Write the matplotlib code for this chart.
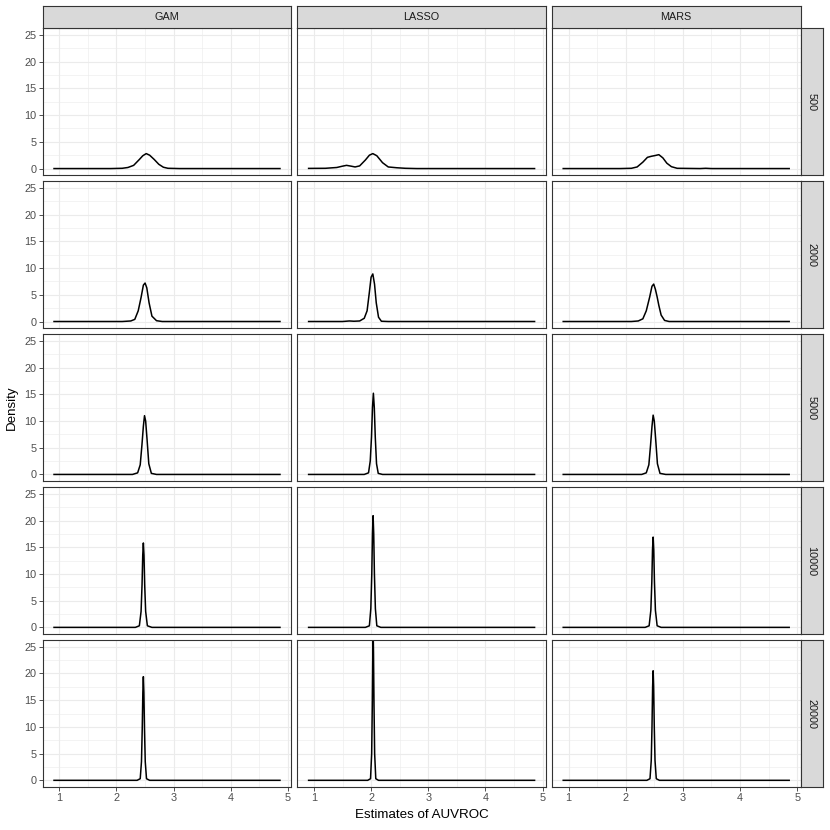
import numpy as np
import matplotlib.pyplot as plt

plt.rcParams['font.family'] = ['Liberation Sans', 'DejaVu Sans']

methods = ["GAM", "LASSO", "MARS"]
sizes = ["500", "2000", "5000", "10000", "20000"]

# density curves, one (x, y) pair of lists per panel
curves = {
    ("500", "GAM"): (
        [0.907, 1.9, 2.1, 2.2, 2.3, 2.4, 2.46, 2.52, 2.58, 2.66, 2.74, 2.82, 2.9, 3.1, 4.86],
        [0, 0, 0.05, 0.2, 0.6, 1.7, 2.4, 2.8, 2.5, 1.7, 0.8, 0.25, 0.05, 0, 0]),
    ("500", "LASSO"): (
        [0.907, 1.2, 1.4, 1.5, 1.57, 1.65, 1.72, 1.8, 1.9, 1.97, 2.03, 2.1, 2.2, 2.3, 2.45, 2.6, 2.8, 4.86],
        [0.03, 0.05, 0.2, 0.45, 0.6, 0.45, 0.3, 0.5, 1.6, 2.5, 2.8, 2.4, 1.1, 0.3, 0.15, 0.05, 0, 0]),
    ("500", "MARS"): (
        [0.907, 1.9, 2.1, 2.2, 2.3, 2.38, 2.45, 2.52, 2.58, 2.65, 2.72, 2.8, 2.9, 3.3, 3.4, 3.5, 4.86],
        [0, 0, 0.05, 0.3, 1.2, 2.1, 2.3, 2.45, 2.6, 2.0, 1.0, 0.35, 0.05, 0, 0.05, 0, 0]),
    ("2000", "GAM"): (
        [0.907, 2.1, 2.25, 2.32, 2.38, 2.43, 2.47, 2.5, 2.53, 2.57, 2.62, 2.7, 2.8, 4.86],
        [0, 0, 0.1, 0.4, 2.0, 4.5, 6.8, 7.2, 6.3, 3.5, 1.0, 0.15, 0, 0]),
    ("2000", "LASSO"): (
        [0.907, 1.5, 1.62, 1.7, 1.8, 1.88, 1.93, 1.97, 2.0, 2.03, 2.06, 2.09, 2.13, 2.18, 2.3, 4.86],
        [0, 0, 0.1, 0.05, 0.1, 0.6, 2.0, 5.5, 8.3, 8.9, 7.0, 3.5, 0.8, 0.05, 0, 0]),
    ("2000", "MARS"): (
        [0.907, 2.1, 2.22, 2.3, 2.36, 2.42, 2.46, 2.49, 2.52, 2.55, 2.58, 2.62, 2.68, 2.76, 4.86],
        [0, 0, 0.1, 0.5, 2.0, 4.6, 6.6, 7.0, 6.0, 4.6, 3.0, 1.2, 0.2, 0, 0]),
    ("5000", "GAM"): (
        [0.907, 2.28, 2.37, 2.415, 2.445, 2.47, 2.49, 2.51, 2.535, 2.565, 2.61, 2.7, 4.86],
        [0, 0, 0.3, 1.8, 5.5, 9.0, 11.0, 10.0, 6.5, 2.0, 0.2, 0, 0]),
    ("5000", "LASSO"): (
        [0.907, 1.88, 1.955, 1.985, 2.007, 2.024, 2.04, 2.056, 2.073, 2.095, 2.125, 2.2, 4.86],
        [0, 0, 0.3, 2.5, 7.0, 12.5, 15.2, 12.5, 7.0, 2.0, 0.2, 0, 0]),
    ("5000", "MARS"): (
        [0.907, 2.28, 2.36, 2.405, 2.435, 2.46, 2.48, 2.5, 2.525, 2.555, 2.6, 2.7, 4.86],
        [0, 0, 0.3, 1.8, 5.5, 9.0, 11.1, 10.0, 6.5, 2.0, 0.2, 0, 0]),
    ("10000", "GAM"): (
        [0.907, 2.33, 2.4, 2.43, 2.447, 2.459, 2.47, 2.481, 2.493, 2.51, 2.54, 2.62, 4.86],
        [0, 0, 0.3, 3.0, 8.0, 13.5, 15.8, 13.5, 8.0, 3.0, 0.3, 0, 0]),
    ("10000", "LASSO"): (
        [0.907, 1.9, 1.97, 1.995, 2.012, 2.024, 2.035, 2.046, 2.058, 2.075, 2.1, 2.17, 4.86],
        [0, 0, 0.3, 3.5, 10.0, 17.5, 20.9, 17.5, 10.0, 3.5, 0.3, 0, 0]),
    ("10000", "MARS"): (
        [0.907, 2.34, 2.41, 2.44, 2.457, 2.469, 2.48, 2.491, 2.503, 2.52, 2.55, 2.62, 4.86],
        [0, 0, 0.3, 3.2, 8.5, 14.5, 16.9, 14.5, 8.5, 3.2, 0.3, 0, 0]),
    ("20000", "GAM"): (
        [0.907, 2.36, 2.415, 2.437, 2.45, 2.461, 2.47, 2.479, 2.49, 2.503, 2.525, 2.58, 4.86],
        [0, 0, 0.3, 3.5, 9.5, 16.5, 19.4, 16.5, 9.5, 3.5, 0.3, 0, 0]),
    ("20000", "LASSO"): (
        [0.907, 1.94, 1.99, 2.01, 2.021, 2.03, 2.036, 2.042, 2.051, 2.062, 2.082, 2.13, 4.86],
        [0, 0, 0.3, 5.0, 14.0, 24.0, 28.0, 24.0, 14.0, 5.0, 0.3, 0, 0]),
    ("20000", "MARS"): (
        [0.907, 2.37, 2.425, 2.447, 2.46, 2.471, 2.48, 2.489, 2.5, 2.513, 2.535, 2.59, 4.86],
        [0, 0, 0.3, 3.7, 10.0, 17.5, 20.5, 17.5, 10.0, 3.7, 0.3, 0, 0]),
}

x_ticks = [1, 2, 3, 4, 5]
y_ticks = [0, 5, 10, 15, 20, 25]

W_PX, H_PX = 830, 830
fig = plt.figure(figsize=(8.3, 8.3), dpi=100)

left, right, top, bottom = 42.7, 800.5, 28.3, 787.0
gap = 6.0
strip = 22.0
pw = (right - left - 2 * gap) / 3
ph = (bottom - top - 4 * gap) / 5


def rect(x0, y0, w, h):
    # pixel box (top-left origin) -> figure fraction
    return [x0 / W_PX, 1 - (y0 + h) / H_PX, w / W_PX, h / H_PX]


dark = '#333333'
for r, size in enumerate(sizes):
    for c, m in enumerate(methods):
        x0 = left + c * (pw + gap)
        y0 = top + r * (ph + gap)
        ax = fig.add_axes(rect(x0, y0, pw, ph))
        xs, ys = curves[(size, m)]
        ax.plot(xs, ys, color='black', lw=1.1, solid_joinstyle='round')
        ax.set_xlim(0.709, 5.058)
        ax.set_ylim(-1.25, 26.25)
        ax.set_xticks(x_ticks)
        ax.set_yticks(y_ticks)
        ax.set_xticks([1.5, 2.5, 3.5, 4.5], minor=True)
        ax.set_yticks([2.5, 7.5, 12.5, 17.5, 22.5], minor=True)
        ax.grid(True, which='major', color='#ebebeb', lw=0.8)
        ax.grid(True, which='minor', color='#ebebeb', lw=0.4)
        ax.set_axisbelow(True)
        for s in ax.spines.values():
            s.set_color(dark)
            s.set_linewidth(0.8)
        ax.tick_params(which='minor', length=0)
        ax.tick_params(which='major', length=3, width=0.6, color=dark,
                       labelsize=7.8, labelcolor='#4d4d4d', pad=1.5)
        if c != 0:
            ax.tick_params(axis='y', length=0, labelleft=False)
        if r != len(sizes) - 1:
            ax.tick_params(axis='x', length=0, labelbottom=False)

        if r == 0:
            sa = fig.add_axes(rect(x0, top - strip, pw, strip))
            sa.set_facecolor('#d9d9d9')
            sa.set_xticks([])
            sa.set_yticks([])
            for s in sa.spines.values():
                s.set_color(dark)
                s.set_linewidth(0.8)
            sa.text(0.5, 0.5, m, ha='center', va='center', fontsize=7.8,
                    color='#1a1a1a', transform=sa.transAxes)
        if c == len(methods) - 1:
            sa = fig.add_axes(rect(right, y0, strip, ph))
            sa.set_facecolor('#d9d9d9')
            sa.set_xticks([])
            sa.set_yticks([])
            for s in sa.spines.values():
                s.set_color(dark)
                s.set_linewidth(0.8)
            sa.text(0.5, 0.5, size, ha='center', va='center', fontsize=7.8,
                    color='#1a1a1a', rotation=-90, transform=sa.transAxes)

fig.text((left + right) / 2 / W_PX, 1 - 815 / H_PX, "Estimates of AUVROC",
         ha='center', va='center', fontsize=9.6)
fig.text(12 / W_PX, 1 - (top + bottom) / 2 / H_PX, "Density",
         ha='center', va='center', rotation=90, fontsize=9.6)

plt.savefig("out.png", dpi=100, facecolor='white')
